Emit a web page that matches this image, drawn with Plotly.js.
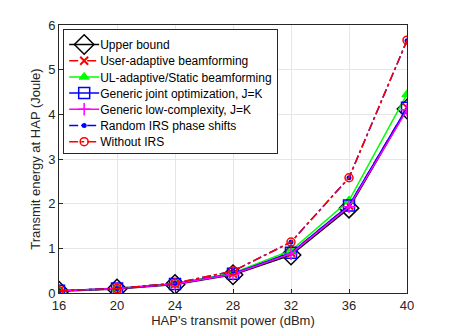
<!DOCTYPE html>
<html><head><meta charset="utf-8">
<script src="https://cdn.plot.ly/plotly-3.0.1.min.js"></script>
<style>html,body{margin:0;padding:0;background:#fff}</style>
</head><body><div id="chart" style="width:449px;height:336px"></div>
<script>
const powers = [16, 20, 24, 28, 32, 36, 40];
const upperBound = [0.04, 0.09, 0.19, 0.41, 0.85, 1.90, 4.12];
const userAdaptive = [0.05, 0.10, 0.20, 0.43, 0.90, 1.96, 4.15];
const ulAdaptive = [0.05, 0.10, 0.21, 0.45, 0.95, 2.07, 4.45];
const genericJoint = [0.05, 0.10, 0.20, 0.43, 0.90, 1.96, 4.15];
const genericLowComplexity = [0.05, 0.10, 0.20, 0.42, 0.88, 1.93, 4.10];
const randomIRS = [0.05, 0.10, 0.22, 0.49, 1.14, 2.58, 5.65];
const withoutIRS = [0.05, 0.10, 0.22, 0.49, 1.14, 2.58, 5.66];
const names = ['Upper bound','User-adaptive beamforming','UL-adaptive/Static beamforming','Generic joint optimization, J=K','Generic low-complexity, J=K','Random IRS phase shifts','Without IRS'];

const traces = [
 {y: upperBound, name: names[0], line:{color:'#000000', width:1.5, dash:'solid'}, marker:{symbol:'diamond-open', size:15, color:'#000000', line:{width:1.5, color:'#000000'}}},
 {y: userAdaptive, name: names[1], line:{color:'#ff0000', width:1.5, dash:'dash'}, marker:{symbol:'x-thin-open', size:8, color:'#ff0000', line:{width:2, color:'#ff0000'}}},
 {y: ulAdaptive, name: names[2], line:{color:'#00ff00', width:1.5, dash:'solid'}, marker:{symbol:'triangle-up', size:9, color:'#00ff00', line:{width:1, color:'#00ff00'}}},
 {y: genericJoint, name: names[3], line:{color:'#0000ff', width:1.5, dash:'solid'}, marker:{symbol:'square-open', size:11, color:'#0000ff', line:{width:1.5, color:'#0000ff'}}},
 {y: genericLowComplexity, name: names[4], line:{color:'#ff00ff', width:1.5, dash:'solid'}, marker:{symbol:'cross-thin-open', size:9, color:'#ff00ff', line:{width:1.5, color:'#ff00ff'}}},
 {y: randomIRS, name: names[5], line:{color:'#0000ff', width:1.5, dash:'dashdot'}, marker:{symbol:'circle', size:5, color:'#0000ff'}},
 {y: withoutIRS, name: names[6], line:{color:'#ff0000', width:1.5, dash:'dashdot'}, marker:{symbol:'circle-open', size:8, color:'#ff0000', line:{width:1.5, color:'#ff0000'}}}
].map(t => Object.assign({x: powers, type:'scatter', mode:'lines+markers'}, t));

const axisCommon = {
  showgrid:true, gridcolor:'#e6e6e6', gridwidth:1,
  showline:true, linecolor:'#262626', linewidth:1, mirror:true,
  ticks:'inside', ticklen:4, tickcolor:'#262626',
  zeroline:false, tickfont:{size:13, color:'#262626'}
};

const layout = {
  width:449, height:336,
  margin:{l:59, r:42, t:25, b:43},
  paper_bgcolor:'#ffffff', plot_bgcolor:'#ffffff',
  font:{family:'Liberation Sans, Arial, sans-serif', color:'#262626'},
  showlegend:true,
  legend:{x:0.012, y:0.985, xanchor:'left', yanchor:'top', bgcolor:'#ffffff', bordercolor:'#262626', borderwidth:1,
          font:{size:12, color:'#000000'}, tracegroupgap:0, itemwidth:30},
  xaxis:Object.assign({}, axisCommon, {range:[16,40], tickvals:powers, title:{text:"HAP's transmit power (dBm)", font:{size:13}, standoff:2}}),
  yaxis:Object.assign({}, axisCommon, {range:[0,6], tickvals:[0,1,2,3,4,5,6], title:{text:'Transmit energy at HAP (Joule)', font:{size:13}, standoff:4}})
};

Plotly.newPlot('chart', traces, layout, {displayModeBar:false, staticPlot:true}).then(function(){
  // compact legend rows to MATLAB-like spacing
  const items = document.querySelectorAll('.legend .traces');
  const step = 16.2;
  let firstY = null, x0 = 0;
  items.forEach(function(g, i){
    const m = /translate\(\s*([-\d.]+)[ ,]+([-\d.]+)\s*\)/.exec(g.getAttribute('transform') || '');
    if (!m) return;
    if (firstY === null) { firstY = parseFloat(m[2]); x0 = parseFloat(m[1]); }
    g.setAttribute('transform', 'translate(' + m[1] + ',' + (firstY + i * step) + ')');
    const t = g.querySelector('.legendtext');
    if (t) t.setAttribute('x', 36);
  });
  if (firstY !== null) {
    const newH = firstY + (items.length - 1) * step + step / 2 + 3;
    const bg = document.querySelector('.legend .bg');
    if (bg) {
      bg.setAttribute('height', newH);
      const w = parseFloat(bg.getAttribute('width'));
      bg.setAttribute('width', w - 4);
    }
  }
});
</script></body></html>
